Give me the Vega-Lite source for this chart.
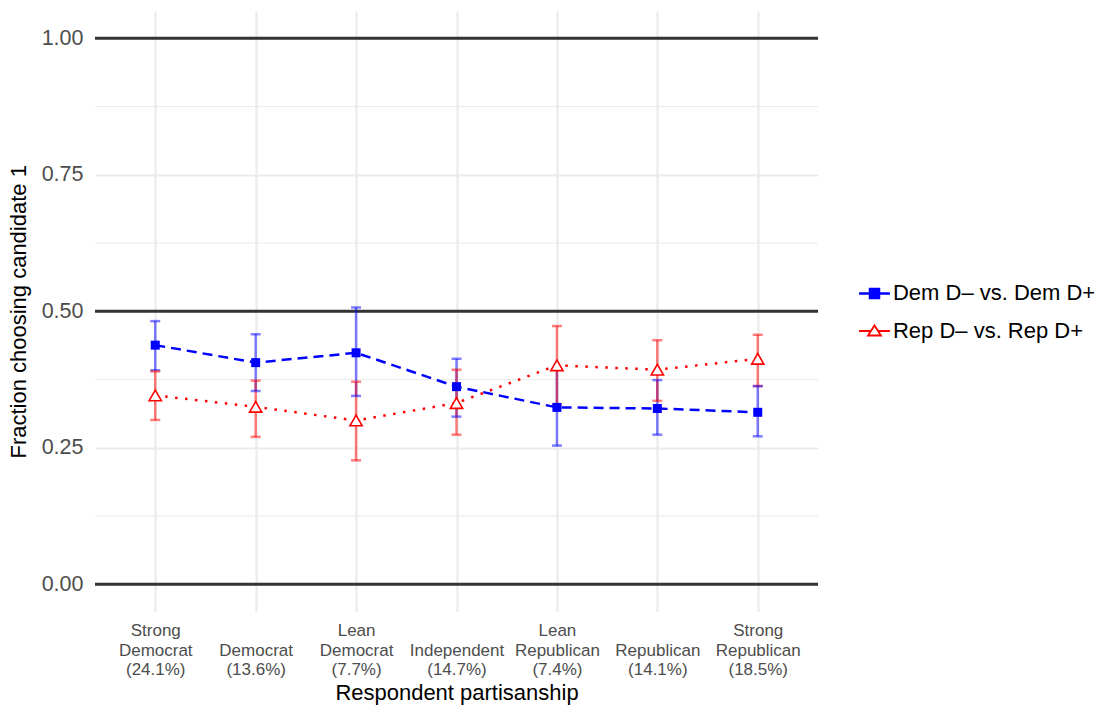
{
  "$schema": "https://vega.github.io/schema/vega-lite/v6.json",
  "width": 723,
  "height": 600.6,
  "autosize": {"type": "none"},
  "padding": {"left": 95, "top": 11, "right": 287, "bottom": 101},
  "background": "white",
  "config": {
    "view": {"stroke": null},
    "font": "Liberation Sans",
    "axisX": {
      "labelFontSize": 17, "labelColor": "#4d4d4d", "labelLineHeight": 19.5, "labelPadding": 11,
      "labelAngle": 0, "labelFont": "Liberation Sans",
      "grid": true, "gridColor": "#ebebeb", "gridWidth": 2.2,
      "domain": false, "ticks": false,
      "titleFontSize": 22, "titleFontWeight": "normal", "titleColor": "black", "titlePadding": 5, "titleFont": "Liberation Sans"
    },
    "axisY": {
      "labelFontSize": 21.5, "labelColor": "#4d4d4d", "labelPadding": 12, "labelFont": "Liberation Sans",
      "grid": true, "gridColor": "#ebebeb", "gridWidth": 2.2,
      "domain": false, "ticks": false,
      "titleFontSize": 22, "titleFontWeight": "normal", "titleColor": "black", "titlePadding": 11, "titleFont": "Liberation Sans"
    }
  },
  "data": {
    "values": [
      {"cat": "Strong Democrat (24.1%)", "series": "Dem D– vs. Dem D+", "est": 0.438, "lo": 0.392, "hi": 0.482},
      {"cat": "Democrat (13.6%)", "series": "Dem D– vs. Dem D+", "est": 0.406, "lo": 0.354, "hi": 0.458},
      {"cat": "Lean Democrat (7.7%)", "series": "Dem D– vs. Dem D+", "est": 0.424, "lo": 0.345, "hi": 0.507},
      {"cat": "Independent (14.7%)", "series": "Dem D– vs. Dem D+", "est": 0.362, "lo": 0.307, "hi": 0.413},
      {"cat": "Lean Republican (7.4%)", "series": "Dem D– vs. Dem D+", "est": 0.324, "lo": 0.254, "hi": 0.395},
      {"cat": "Republican (14.1%)", "series": "Dem D– vs. Dem D+", "est": 0.322, "lo": 0.274, "hi": 0.374},
      {"cat": "Strong Republican (18.5%)", "series": "Dem D– vs. Dem D+", "est": 0.315, "lo": 0.271, "hi": 0.363},
      {"cat": "Strong Democrat (24.1%)", "series": "Rep D– vs. Rep D+", "est": 0.346, "lo": 0.301, "hi": 0.390},
      {"cat": "Democrat (13.6%)", "series": "Rep D– vs. Rep D+", "est": 0.325, "lo": 0.270, "hi": 0.373},
      {"cat": "Lean Democrat (7.7%)", "series": "Rep D– vs. Rep D+", "est": 0.300, "lo": 0.227, "hi": 0.371},
      {"cat": "Independent (14.7%)", "series": "Rep D– vs. Rep D+", "est": 0.332, "lo": 0.274, "hi": 0.393},
      {"cat": "Lean Republican (7.4%)", "series": "Rep D– vs. Rep D+", "est": 0.401, "lo": 0.329, "hi": 0.473},
      {"cat": "Republican (14.1%)", "series": "Rep D– vs. Rep D+", "est": 0.393, "lo": 0.336, "hi": 0.447},
      {"cat": "Strong Republican (18.5%)", "series": "Rep D– vs. Rep D+", "est": 0.413, "lo": 0.363, "hi": 0.457}
    ]
  },
  "layer": [
    {
      "data": {"values": [{"y": 0.125}, {"y": 0.375}, {"y": 0.625}, {"y": 0.875}]},
      "mark": {"type": "rule", "color": "#ebebeb", "strokeWidth": 1.1},
      "encoding": {
        "y": {
          "field": "y", "type": "quantitative", "title": "Fraction choosing candidate 1",
          "scale": {"domain": [-0.05, 1.05], "nice": false, "zero": false},
          "axis": {"values": [0, 0.25, 0.5, 0.75, 1], "format": ".2f"}
        }
      }
    },
    {
      "data": {"values": [{"y": 0}, {"y": 0.5}, {"y": 1}]},
      "mark": {"type": "rule", "color": "#333333", "strokeWidth": 3},
      "encoding": {
        "y": {"field": "y", "type": "quantitative", "title": "Fraction choosing candidate 1"}
      }
    },
    {
      "mark": {"type": "rule", "strokeWidth": 2.5, "opacity": 0.5},
      "encoding": {
        "x": {
          "field": "cat", "type": "nominal", "title": "Respondent partisanship",
          "scale": {"type": "point", "padding": 0.6, "domain": ["Strong Democrat (24.1%)", "Democrat (13.6%)", "Lean Democrat (7.7%)", "Independent (14.7%)", "Lean Republican (7.4%)", "Republican (14.1%)", "Strong Republican (18.5%)"]},
          "axis": {"labelExpr": "length(split(datum.label, ' ')) < 3 ? ['', split(datum.label, ' ')[0], split(datum.label, ' ')[1]] : split(datum.label, ' ')"}
        },
        "y": {"field": "lo", "type": "quantitative", "title": "Fraction choosing candidate 1"},
        "y2": {"field": "hi"},
        "color": {"field": "series", "type": "nominal", "scale": {"range": ["blue", "red"]}, "legend": null}
      }
    },
    {
      "mark": {"type": "tick", "size": 10, "thickness": 2.5, "opacity": 0.5},
      "encoding": {
        "x": {"field": "cat", "type": "nominal", "title": "Respondent partisanship"},
        "y": {"field": "lo", "type": "quantitative", "title": "Fraction choosing candidate 1"},
        "color": {"field": "series", "type": "nominal", "legend": null}
      }
    },
    {
      "mark": {"type": "tick", "size": 10, "thickness": 2.5, "opacity": 0.5},
      "encoding": {
        "x": {"field": "cat", "type": "nominal", "title": "Respondent partisanship"},
        "y": {"field": "hi", "type": "quantitative", "title": "Fraction choosing candidate 1"},
        "color": {"field": "series", "type": "nominal", "legend": null}
      }
    },
    {
      "mark": {"type": "line", "strokeWidth": 2.5},
      "encoding": {
        "x": {"field": "cat", "type": "nominal", "title": "Respondent partisanship"},
        "y": {"field": "est", "type": "quantitative", "title": "Fraction choosing candidate 1"},
        "color": {"field": "series", "type": "nominal", "legend": null},
        "strokeDash": {"field": "series", "type": "nominal", "scale": {"range": [[10, 6], [2.5, 7.5]]}, "legend": null},
        "order": {"value": null}
      }
    },
    {
      "transform": [{"filter": "datum.series === 'Dem D– vs. Dem D+'"}],
      "mark": {"type": "point", "shape": "square", "size": 81, "filled": true, "color": "blue", "opacity": 1},
      "encoding": {
        "x": {"field": "cat", "type": "nominal", "title": "Respondent partisanship"},
        "y": {"field": "est", "type": "quantitative", "title": "Fraction choosing candidate 1"}
      }
    },
    {
      "transform": [{"filter": "datum.series === 'Rep D– vs. Rep D+'"}],
      "mark": {"type": "point", "shape": "triangle-up", "size": 150, "fill": "white", "stroke": "red", "strokeWidth": 1.6, "opacity": 1, "fillOpacity": 1},
      "encoding": {
        "x": {"field": "cat", "type": "nominal", "title": "Respondent partisanship"},
        "y": {"field": "est", "type": "quantitative", "title": "Fraction choosing candidate 1"}
      }
    },
    {
      "mark": {"type": "point", "opacity": 0},
      "encoding": {
        "x": {"field": "cat", "type": "nominal", "title": "Respondent partisanship"},
        "y": {"field": "est", "type": "quantitative", "title": "Fraction choosing candidate 1"},
        "stroke": {
          "field": "series", "type": "nominal",
          "scale": {"domain": ["Dem D– vs. Dem D+", "Rep D– vs. Rep D+"], "range": ["blue", "red"]},
          "legend": {"orient": "none", "legendX": 763, "legendY": 266, "title": null, "labelFontSize": 22, "labelColor": "black", "labelFont": "Liberation Sans", "symbolSize": 900, "symbolOpacity": 1, "padding": 0, "labelOffset": 2, "rowPadding": 10, "labelLimit": 400}
        },
        "fill": {
          "field": "series", "type": "nominal",
          "scale": {"domain": ["Dem D– vs. Dem D+", "Rep D– vs. Rep D+"], "range": ["blue", "white"]},
          "legend": {"orient": "none", "legendX": 763, "legendY": 266, "title": null, "labelFontSize": 22, "labelColor": "black", "labelFont": "Liberation Sans", "symbolSize": 900, "symbolOpacity": 1, "padding": 0, "labelOffset": 2, "rowPadding": 10, "labelLimit": 400}
        },
        "shape": {
          "field": "series", "type": "nominal",
          "scale": {"domain": ["Dem D– vs. Dem D+", "Rep D– vs. Rep D+"], "range": ["M-1.03,0H1.03M-0.3,-0.3H0.3V0.3H-0.3Z", "M-1.03,0H-0.24M0.24,0H1.03M-0.43,0.3L0,-0.37L0.43,0.3Z"]},
          "legend": {"orient": "none", "legendX": 763, "legendY": 266, "title": null, "labelFontSize": 22, "labelColor": "black", "labelFont": "Liberation Sans", "symbolSize": 900, "symbolOpacity": 1, "padding": 0, "labelOffset": 2, "rowPadding": 10, "labelLimit": 400}
        },
        "strokeWidth": {
          "field": "series", "type": "nominal",
          "scale": {"domain": ["Dem D– vs. Dem D+", "Rep D– vs. Rep D+"], "range": [2.5, 1.8]},
          "legend": {"orient": "none", "legendX": 763, "legendY": 266, "title": null, "labelFontSize": 22, "labelColor": "black", "labelFont": "Liberation Sans", "symbolSize": 900, "symbolOpacity": 1, "padding": 0, "labelOffset": 2, "rowPadding": 10, "labelLimit": 400}
        }
      }
    }
  ]
}
